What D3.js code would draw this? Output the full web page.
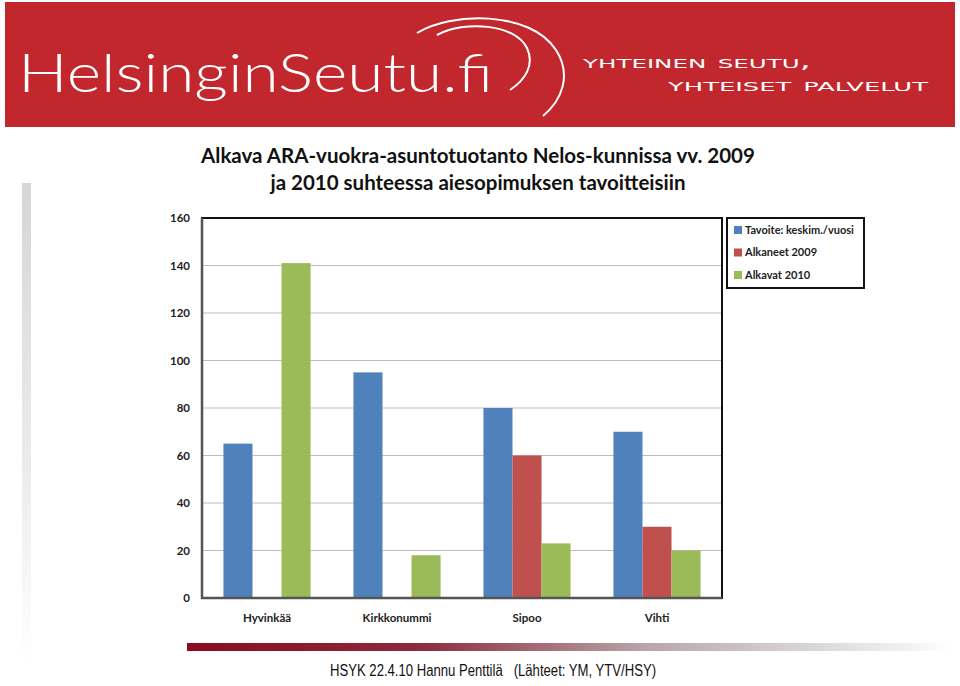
<!DOCTYPE html>
<meta charset="utf-8">
<style>
body { margin: 0; background: #fff; }
svg { display: block; }
.tick text { font: bold 11.5px Lato, sans-serif; fill: #222; }
.grid line { stroke: #bdbdbd; stroke-width: 1px; }
.legend text { font: bold 11px Lato, sans-serif; fill: #222; }
</style>
<body>
<script src="https://d3js.org/d3.v7.min.js"></script>
<script>

// chart data
var categories = ["Hyvinkää", "Kirkkonummi", "Sipoo", "Vihti"];
var seriesNames = ["Tavoite: keskim./vuosi", "Alkaneet 2009", "Alkavat 2010"];
var tavoite = [65, 95, 80, 70];
var alkaneet2009 = [0, 0, 60, 30];
var alkavat2010 = [141, 18, 23, 20];
var yTicks = [0, 20, 40, 60, 80, 100, 120, 140, 160];
var colors = ["#4f81bd", "#c0504d", "#9bbb59"];

var titleLines = ["Alkava ARA-vuokra-asuntotuotanto Nelos-kunnissa vv. 2009",
                  "ja 2010 suhteessa aiesopimuksen tavoitteisiin"];
var footer = "HSYK 22.4.10 Hannu Penttilä   (Lähteet: YM, YTV/HSY)";

var values = [tavoite, alkaneet2009, alkavat2010];
var W = 960, H = 686;

var svg = d3.select("body").append("svg")
  .attr("width", W).attr("height", H);

var defs = svg.append("defs");

// header banner
svg.append("rect")
  .attr("x", 5).attr("y", 2).attr("width", 950).attr("height", 125)
  .attr("fill", "#c1272d");

svg.append("text")
  .attr("x", 18).attr("y", 92)
  .attr("fill", "#fff")
  .style("font", "300 54px Lato, sans-serif")
  .attr("textLength", 475).attr("lengthAdjust", "spacingAndGlyphs")
  .text("HelsinginSeutu.fi");

// the two arcs of the logo
svg.append("path")
  .attr("d", "M417,33 C450,12 530,10 556,50 C572,75 562,100 543,116")
  .attr("fill", "none").attr("stroke", "#fff").attr("stroke-width", 2);
svg.append("path")
  .attr("d", "M437,35 C465,20 515,24 527,48 C535,65 525,80 510,90")
  .attr("fill", "none").attr("stroke", "#fff").attr("stroke-width", 2);

svg.append("text")
  .attr("x", 583).attr("y", 68)
  .attr("fill", "#fff")
  .style("font", "19px 'DejaVu Sans', sans-serif")
  .style("font-variant", "small-caps")
  .attr("textLength", 228).attr("lengthAdjust", "spacingAndGlyphs")
  .text("yhteinen seutu,");
svg.append("text")
  .attr("x", 668).attr("y", 91)
  .attr("fill", "#fff")
  .style("font", "19px 'DejaVu Sans', sans-serif")
  .style("font-variant", "small-caps")
  .attr("textLength", 260).attr("lengthAdjust", "spacingAndGlyphs")
  .text("yhteiset palvelut");

// left gray strip
var vg = defs.append("linearGradient").attr("id", "vg")
  .attr("x1", 0).attr("y1", 0).attr("x2", 0).attr("y2", 1);
vg.append("stop").attr("offset", "0%").attr("stop-color", "#d6d6d6");
vg.append("stop").attr("offset", "60%").attr("stop-color", "#ececec");
vg.append("stop").attr("offset", "100%").attr("stop-color", "#ffffff");
svg.append("rect")
  .attr("x", 22).attr("y", 183).attr("width", 9).attr("height", 480)
  .attr("fill", "url(#vg)");

// title
svg.selectAll(".title").data(titleLines).enter().append("text")
  .attr("class", "title")
  .attr("x", 478).attr("y", function(d, i) { return 163 + i * 27; })
  .attr("text-anchor", "middle")
  .style("font", "bold 20.5px Lato, sans-serif")
  .attr("fill", "#111")
  .text(function(d) { return d; });

// plot area
var plot = {left: 202, top: 218, right: 722, bottom: 598};

var x0 = d3.scaleBand().domain(categories)
  .range([plot.left, plot.right]).paddingInner(0.33).paddingOuter(0.165);
var x1 = d3.scaleBand().domain(d3.range(seriesNames.length))
  .range([0, x0.bandwidth()]);
var y = d3.scaleLinear().domain([0, 160]).range([plot.bottom, plot.top]);

// gridlines
svg.append("g").attr("class", "grid")
  .selectAll("line").data(yTicks.slice(1, -1)).enter().append("line")
  .attr("x1", plot.left).attr("x2", plot.right)
  .attr("y1", function(d) { return y(d); })
  .attr("y2", function(d) { return y(d); });

// bars
var groups = svg.append("g").selectAll("g")
  .data(categories).enter().append("g")
  .attr("transform", function(d) { return "translate(" + x0(d) + ",0)"; });

groups.selectAll("rect")
  .data(function(d, ci) { return values.map(function(v, si) { return {s: si, v: v[ci]}; }); })
  .enter().append("rect")
  .attr("x", function(d) { return x1(d.s); })
  .attr("width", x1.bandwidth())
  .attr("y", function(d) { return y(d.v); })
  .attr("height", function(d) { return y(0) - y(d.v); })
  .attr("fill", function(d) { return colors[d.s]; });

// frame
svg.append("rect")
  .attr("x", plot.left).attr("y", plot.top)
  .attr("width", plot.right - plot.left).attr("height", plot.bottom - plot.top)
  .attr("fill", "none").attr("stroke", "#111").attr("stroke-width", 2);
svg.append("line")
  .attr("x1", plot.left).attr("x2", plot.left)
  .attr("y1", plot.top).attr("y2", plot.bottom)
  .attr("stroke", "#555").attr("stroke-width", 2.5);
svg.append("line")
  .attr("x1", plot.left).attr("x2", plot.right)
  .attr("y1", plot.bottom).attr("y2", plot.bottom)
  .attr("stroke", "#555").attr("stroke-width", 2.5);

// axes
var yAxis = svg.append("g")
  .attr("transform", "translate(" + (plot.left - 12) + ",0)")
  .call(d3.axisLeft(y).tickValues(yTicks).tickSize(0).tickPadding(0));
yAxis.select(".domain").remove();

var xAxis = svg.append("g")
  .attr("transform", "translate(0," + (plot.bottom + 15) + ")")
  .call(d3.axisBottom(x0).tickSize(0).tickPadding(0));
xAxis.select(".domain").remove();
xAxis.selectAll("text").attr("dy", "0.8em");

// legend
var legend = svg.append("g").attr("class", "legend");
legend.append("rect")
  .attr("x", 727).attr("y", 218).attr("width", 137).attr("height", 70)
  .attr("fill", "#fff").attr("stroke", "#111").attr("stroke-width", 2);
var li = legend.selectAll(".item").data(seriesNames).enter().append("g")
  .attr("class", "item")
  .attr("transform", function(d, i) { return "translate(734," + (230 + i * 22.5) + ")"; });
li.append("rect").attr("x", 0).attr("y", -4).attr("width", 8).attr("height", 8)
  .attr("fill", function(d, i) { return colors[i]; });
li.append("text").attr("x", 11).attr("dy", "0.35em").text(function(d) { return d; });

// footer bar
var fg = defs.append("linearGradient").attr("id", "fg");
fg.append("stop").attr("offset", "0%").attr("stop-color", "#8a0b22");
fg.append("stop").attr("offset", "30%").attr("stop-color", "#8c2a3b");
fg.append("stop").attr("offset", "60%").attr("stop-color", "#b9a5aa");
fg.append("stop").attr("offset", "85%").attr("stop-color", "#dedede");
fg.append("stop").attr("offset", "100%").attr("stop-color", "#ffffff");
svg.append("rect")
  .attr("x", 187).attr("y", 643).attr("width", 765).attr("height", 8)
  .attr("fill", "url(#fg)");

svg.append("text")
  .attr("x", 330).attr("y", 676)
  .style("font", "16px 'Liberation Sans', Arial, sans-serif")
  .style("white-space", "pre")
  .attr("fill", "#111")
  .attr("textLength", 326).attr("lengthAdjust", "spacingAndGlyphs")
  .text(footer);

</script>
</body>
